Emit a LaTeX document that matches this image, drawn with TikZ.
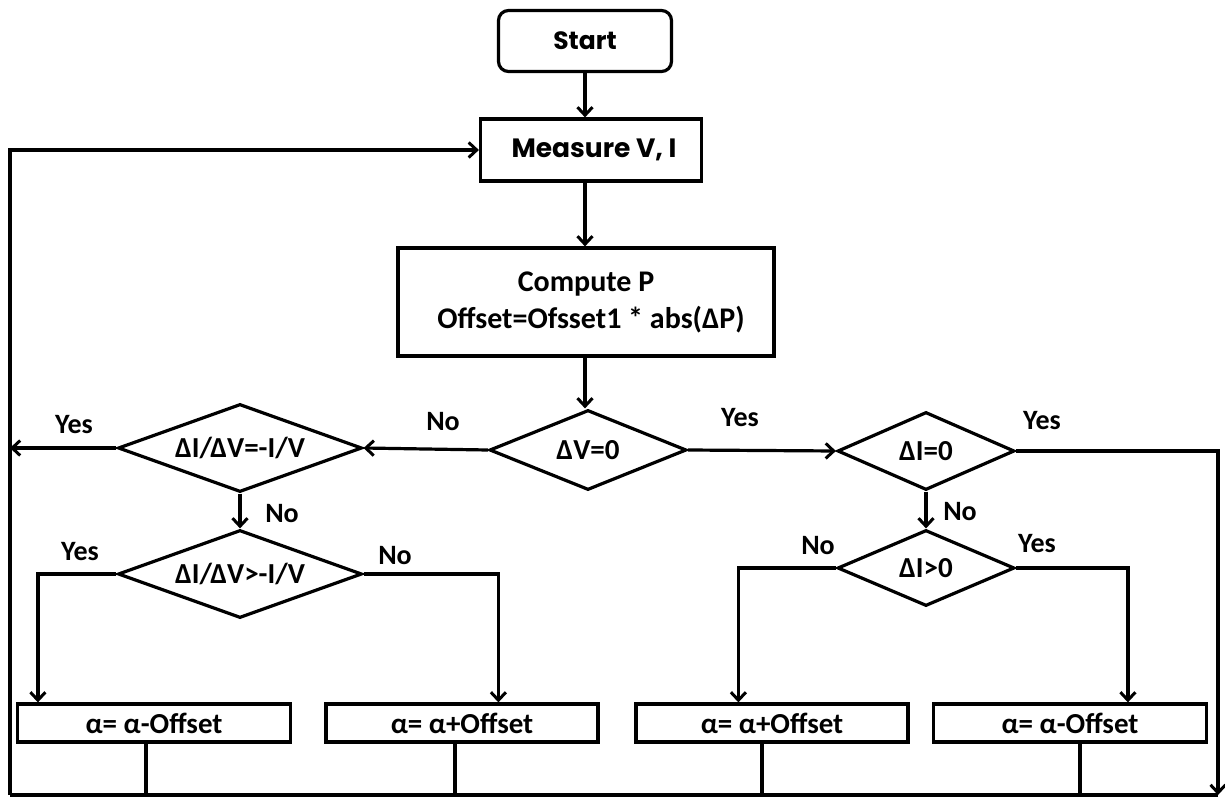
\documentclass[tikz,border=0pt]{standalone}
\usepackage{fontspec}
\setmainfont{Carlito}
\newfontfamily\gothic{Poppins}
\usetikzlibrary{shapes.geometric,arrows.meta}
\begin{document}
\begin{tikzpicture}[x=1pt,y=-1pt,
  every node/.style={font=\bfseries\fontsize{28}{32}\selectfont},
  ln/.style={line width=3.2pt,line join=miter},
  arr/.style={ln,-{Straight Barb[length=8pt,width=15pt,line width=3pt]}},
  boxnode/.style={draw,line width=3.2pt,rectangle,inner sep=0pt},
  dec/.style={draw,line width=3.2pt,diamond,inner sep=0pt,font=\bfseries\fontsize{29}{32}\selectfont},
  alpha box/.style={boxnode,minimum height=38pt,font=\bfseries\fontsize{29}{32}\selectfont},
  lbl/.style={inner sep=0pt}]
\useasboundingbox (0,0) rectangle (1225,799);
% nodes
\node[boxnode,rounded corners=10pt,minimum width=173pt,minimum height=61pt,font=\gothic\bfseries\fontsize{25}{28}\selectfont] (start) at (585,41) {Start};
\node[boxnode,minimum width=221pt,minimum height=62pt,font=\gothic\bfseries\fontsize{26.5}{30}\selectfont] (meas) at (591,150) {\hspace*{6pt}Measure V, I};
\node[boxnode,minimum width=376pt,minimum height=108pt,align=center,font=\bfseries\fontsize{30}{37}\selectfont] (comp) at (586,302) {Compute P\\\hspace*{10pt}Offset=Ofsset1 * abs(ΔP)};
\node[dec,aspect=2.46,minimum width=197pt,minimum height=80pt] (dv) at (588,450) {ΔV=0};
\node[dec,aspect=2.77,minimum width=244pt,minimum height=88pt] (didv) at (240,448) {ΔI/ΔV=-I/V};
\node[dec,aspect=2.77,minimum width=244pt,minimum height=88pt] (didv2) at (240,574) {ΔI/ΔV>-I/V};
\node[dec,aspect=2.27,minimum width=177pt,minimum height=78pt] (di) at (926,451) {ΔI=0};
\node[dec,aspect=2.33,minimum width=177pt,minimum height=76pt] (dig) at (926,568) {ΔI>0};
\node[alpha box,minimum width=273pt] (b1) at (154,723) {α= α-Offset};
\node[alpha box,minimum width=272pt] (b2) at (462,723) {α= α+Offset};
\node[alpha box,minimum width=272pt] (b3) at (772,723) {α= α+Offset};
\node[alpha box,minimum width=273pt] (b4) at (1070,723) {α= α-Offset};
\coordinate (botL) at (10,795);
\coordinate (botR) at (1218,795);
% connectors
\draw[arr] (start.south -| 585,0) -- (meas.north -| 585,0);
\draw[arr] (meas.south -| 585,0) -- (comp.north -| 585,0);
\draw[arr] (comp.south -| 585,0) -- (dv.north -| 585,0);
\draw[arr] (dv.west) -- (didv.east);
\draw[arr] (dv.east) -- (di.west);
\draw[arr] (didv.west) -- (didv.west -| botL);
\draw[arr] (didv.south) -- (didv2.north);
\draw[arr] (didv2.west) -| ([xshift=22pt]b1.north west);
\draw[arr] (didv2.east) -| ([xshift=174pt]b2.north west);
\draw[arr] (di.south) -- (dig.north);
\draw[arr] (dig.west) -| ([xshift=104pt]b3.north west);
\draw[arr] (dig.east) -| ([xshift=196pt]b4.north west);
\draw[arr] (di.east) -| (botR);
\draw[arr] (botL) |- (meas.west);
\draw[ln] (botL) -- (botR);
\draw[ln] ([xshift=-8pt]b1.south) -- ([xshift=-8pt]b1.south |- botL);
\draw[ln] ([xshift=-7pt]b2.south) -- ([xshift=-7pt]b2.south |- botL);
\draw[ln] ([xshift=-10pt]b3.south) -- ([xshift=-10pt]b3.south |- botL);
\draw[ln] ([xshift=10pt]b4.south) -- ([xshift=10pt]b4.south |- botL);
% labels
\node[lbl] (l1) at (74,425) {Yes};
\node[lbl] (l2) at (443,422) {No};
\node[lbl] (l3) at (740,418) {Yes};
\node[lbl] (l4) at (1042,421) {Yes};
\node[lbl] (l5) at (282,514) {No};
\node[lbl] (l6) at (80,552) {Yes};
\node[lbl] (l7) at (395,556) {No};
\node[lbl] (l8) at (960,512) {No};
\node[lbl] (l9) at (818,546) {No};
\node[lbl] (l10) at (1037,544) {Yes};
\end{tikzpicture}
\end{document}
